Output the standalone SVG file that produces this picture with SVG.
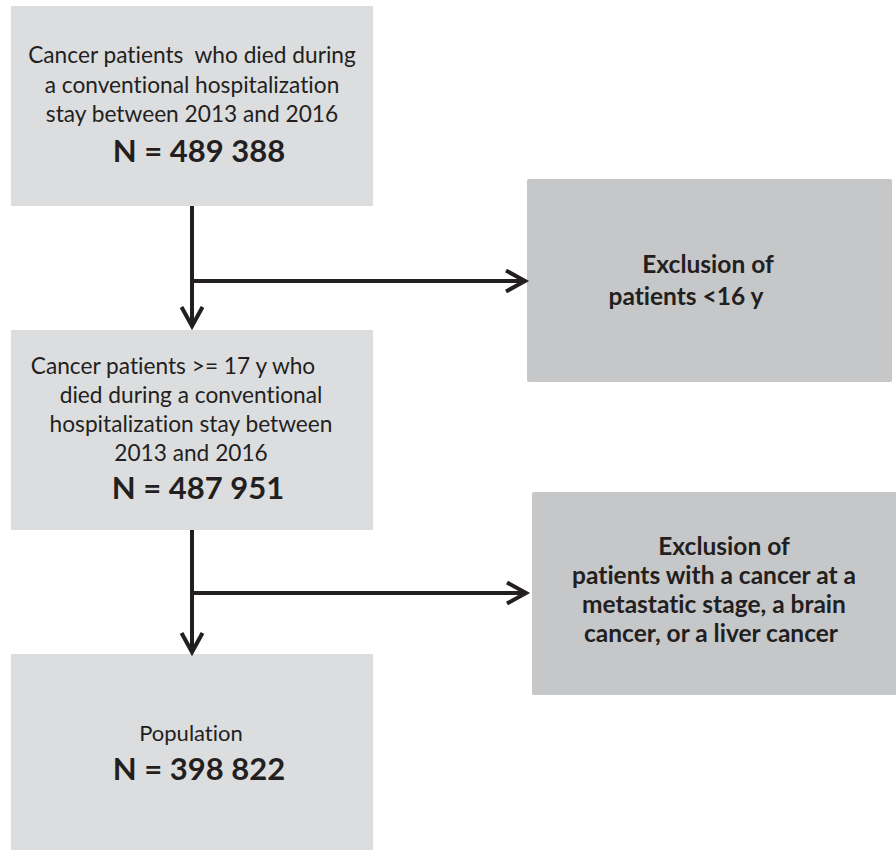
<svg xmlns="http://www.w3.org/2000/svg" width="896" height="850" viewBox="0 0 896 850">
<style>
.light{fill:#dcdddf}
.dark{fill:#c6c7c9}
.t{font-family:Lato,"Open Sans","Liberation Sans",sans-serif;fill:#231f20;text-anchor:middle;font-variant-ligatures:none;white-space:pre}
.r{font-size:22.7px}
.p{font-size:22px}
.b{font-size:24.5px;font-weight:bold}
.n{font-size:31px;font-weight:bold}
.c{fill:none;stroke:#231f20;stroke-width:4}
</style>
<defs>
<marker id="arr" markerUnits="userSpaceOnUse" markerWidth="30" markerHeight="30" refX="22" refY="12" orient="auto">
<path d="M2,1.5 L21,12 L2,22.5" fill="none" stroke="#231f20" stroke-width="4"/>
</marker>
</defs>
<rect width="896" height="850" fill="#ffffff"/>
<g id="node-start">
<rect class="light" x="11" y="6" width="362" height="200"/>
<text class="t r" x="192" y="63" xml:space="preserve">Cancer patients  who died during</text>
<text class="t r" x="192" y="93">a conventional hospitalization</text>
<text class="t r" x="192" y="122">stay between 2013 and 2016</text>
<text class="t n" x="199" y="162">N = 489 388</text>
</g>
<g id="node-adults">
<rect class="light" x="11" y="330" width="362" height="200"/>
<text class="t r" x="173" y="374">Cancer patients &gt;= 17 y who</text>
<text class="t r" x="191" y="403">died during a conventional</text>
<text class="t r" x="191" y="432">hospitalization stay between</text>
<text class="t r" x="191" y="461">2013 and 2016</text>
<text class="t n" x="198" y="499">N = 487 951</text>
</g>
<g id="node-excl1">
<rect class="dark" x="527" y="179" width="365" height="203" rx="2"/>
<text class="t b" x="708" y="273">Exclusion of</text>
<text class="t b" x="686" y="305">patients &lt;16 y</text>
</g>
<g id="node-excl2">
<rect class="dark" x="532" y="492" width="370" height="203" rx="2"/>
<text class="t b" x="724" y="555">Exclusion of</text>
<text class="t b" x="714" y="584">patients with a cancer at a</text>
<text class="t b" x="714" y="613">metastatic stage, a brain</text>
<text class="t b" x="711" y="642">cancer, or a liver cancer</text>
</g>
<g id="node-population">
<rect class="light" x="11" y="654" width="362" height="200"/>
<text class="t p" x="191" y="741">Population</text>
<text class="t n" x="199" y="780">N = 398 822</text>
</g>
<g id="connectors">
<path class="c" d="M192,206 V327" marker-end="url(#arr)"/>
<path class="c" d="M192,281 H526" marker-end="url(#arr)"/>
<path class="c" d="M192,530 V653" marker-end="url(#arr)"/>
<path class="c" d="M192,593 H527" marker-end="url(#arr)"/>
</g>
</svg>
